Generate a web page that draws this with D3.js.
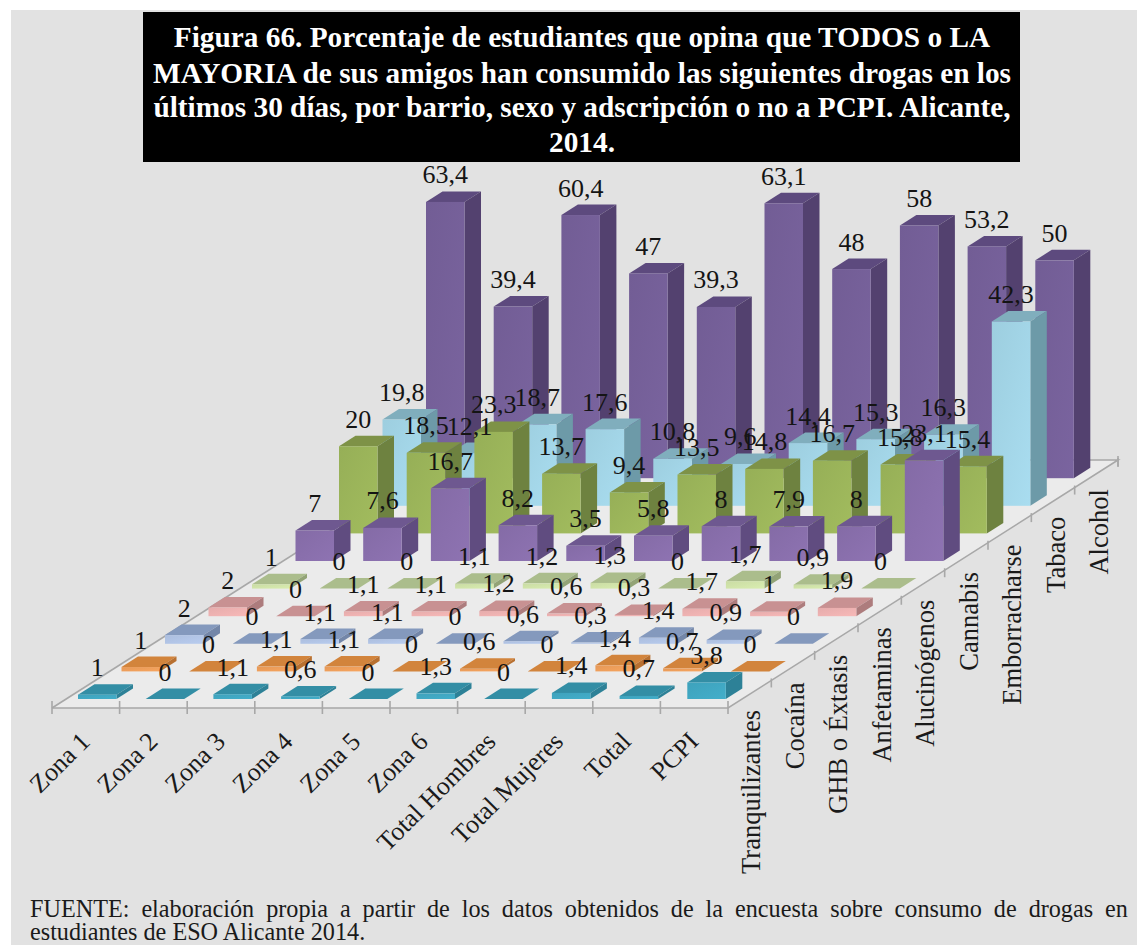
<!DOCTYPE html>
<html><head><meta charset="utf-8">
<style>html,body{margin:0;padding:0;background:#fff}svg{display:block}
text{font-family:"Liberation Serif",serif}</style>
<script src="https://cdn.jsdelivr.net/npm/d3@7/dist/d3.min.js"></script>
</head><body><svg id="c" width="1137" height="945"></svg>
<script>
const zones = ["Zona 1","Zona 2","Zona 3","Zona 4","Zona 5","Zona 6","Total Hombres","Total Mujeres","Total","PCPI"];
const drugs = ["Tranquilizantes","Cocaína","GHB o Éxtasis","Anfetaminas","Alucinógenos","Cannabis","Emborracharse","Tabaco","Alcohol"];
const tranquilizantes = [1,0,1.1,0.6,0,1.3,0,1.4,0.7,3.8];
const cocaina = [1,0,1.1,1.1,0,0.6,0,1.4,0.7,0];
const ghb = [2,0,1.1,1.1,0,0.6,0.3,1.4,0.9,0];
const anfetaminas = [2,0,1.1,1.1,1.2,0.6,0.3,1.7,1,1.9];
const alucinogenos = [1,0,0,1.1,1.2,1.3,0,1.7,0.9,0];
const cannabis = [7,7.6,16.7,8.2,3.5,5.8,8,7.9,8,23.1];
const emborracharse = [20,18.5,23.3,13.7,9.4,13.5,14.8,16.7,15.8,15.4];
const tabaco = [19.8,12.1,18.7,17.6,10.8,9.6,14.4,15.3,16.3,42.3];
const alcohol = [63.4,39.4,60.4,47,39.3,63.1,48,58,53.2,50];
const seriesValues = [tranquilizantes,cocaina,ghb,anfetaminas,alucinogenos,cannabis,emborracharse,tabaco,alcohol];
const frontColors = ["#41a9c4","#f0a05c","#b3c6e8","#f0b4b3","#d3e6ab","#8a70ad","#9db75b","#a4d7e9","#77619b"];
const topColors   = ["#338ea5","#d2843c","#8499bd","#c89192","#abbd8c","#6e5890","#7e9247","#80aebd","#5d4a7e"];
const sideColors  = ["#2d8197","#b87030","#7386a8","#ad7c7d","#92a376","#604c80","#6e8240","#6d9aa8","#53416f"];
const titleLines = ["Figura 66. Porcentaje de estudiantes que opina que TODOS o LA","MAYORIA de sus amigos han consumido las siguientes drogas en los","últimos 30 días, por barrio, sexo y adscripción o no a PCPI. Alicante,","2014."];
const sourceLines = ["FUENTE: elaboración propia a partir de los datos obtenidos de la encuesta sobre consumo de drogas en","estudiantes de ESO Alicante 2014."];

const svg = d3.select("#c");
const barW = 38.5, depthX = 16.5, depthY = 10.5;
const zoneX = d3.scalePoint().domain(zones).range([78, 78 + 9*67.7]);
const rowDX = d3.scalePoint().domain(drugs).range([0, 8*43.5]);
const rowY  = d3.scalePoint().domain(drugs).range([699, 699 - 8*27.6]);
const hScale = d3.scaleLinear().domain([0,70]).range([0,305]);
const axisX = d3.scaleLinear().domain([0,10]).range([52,728]);
const axisD = d3.scaleLinear().domain([0,9]).range([0,1]);
const pt = (a,b,t)=>[a[0]+(b[0]-a[0])*t, a[1]+(b[1]-a[1])*t];

svg.append("rect").attr("x",11).attr("y",10).attr("width",1126).attr("height",935).attr("fill","#e2e2e2");

// floor
const fl=[52,708], fr=[728,708], br=[1118,460], bl=[442,460];
svg.append("polygon").attr("points",[fl,fr,br,bl].map(p=>p.join(",")).join(" ")).attr("fill","#ebebeb");
const axisG = svg.append("g").attr("stroke","#a8a8a8").attr("stroke-width",1.6).attr("fill","none");
axisG.append("path").attr("d",d3.line()([fl,fr,br,bl]));
axisG.append("path").attr("d",d3.line()([fl,bl]));
d3.range(0,11).forEach(i=>axisG.append("line").attr("x1",axisX(i)).attr("x2",axisX(i)).attr("y1",701).attr("y2",714));
d3.range(1,10).forEach(i=>{const p=pt(fr,br,axisD(i));
  axisG.append("line").attr("x1",p[0]).attr("x2",p[0]).attr("y1",p[1]-2).attr("y2",p[1]+7);});
axisG.append("line").attr("x1",1118).attr("x2",1118).attr("y1",456).attr("y2",466);

// gradients
const defs = svg.append("defs");
frontColors.forEach((c,i)=>{
  const g=defs.append("linearGradient").attr("id","f"+i).attr("x1",0).attr("y1",0).attr("x2",1).attr("y2",1);
  g.append("stop").attr("offset",0).attr("stop-color",d3.color(c).darker(0.12));
  g.append("stop").attr("offset",1).attr("stop-color",d3.color(c).brighter(0.08));
});

// bars, back row first
const poly=(g,pts,fill)=>g.append("polygon").attr("points",pts.map(p=>p.join(",")).join(" ")).attr("fill",fill);
const labels=[];
for(let r=drugs.length-1;r>=0;r--){
  const g=svg.append("g");
  zones.forEach((z,k)=>{
    const v=seriesValues[r][k];
    const x=zoneX(z)+rowDX(drugs[r]), y0=rowY(drugs[r]), h=hScale(v), y1=y0-h;
    poly(g,[[x,y1],[x+depthX,y1-depthY],[x+barW+depthX,y1-depthY],[x+barW,y1]],topColors[r]);
    if(v>0){
      poly(g,[[x+barW,y0],[x+barW+depthX,y0-depthY],[x+barW+depthX,y1-depthY],[x+barW,y1]],sideColors[r]);
      g.append("rect").attr("x",x).attr("y",y1).attr("width",barW).attr("height",h).attr("fill",`url(#f${r})`);
    }
    labels.push({x:x+barW/2,y:y1-18.5,t:String(v).replace(".",",")});
  });
}
svg.append("g").attr("font-size",26).attr("fill","#141414").attr("text-anchor","middle")
  .selectAll("text").data(labels).join("text").attr("x",d=>d.x).attr("y",d=>d.y).text(d=>d.t);

// axis labels
svg.append("g").attr("font-size",26).attr("fill","#1a1a1a").attr("text-anchor","end")
  .selectAll("text").data(zones).join("text")
  .attr("transform",(d,i)=>`translate(${axisX(i)+39.5},743) rotate(-45)`).text(d=>d);
svg.append("g").attr("font-size",26.5).attr("fill","#1a1a1a").attr("text-anchor","end")
  .selectAll("text").data(drugs).join("text")
  .attr("transform",(d,i)=>`translate(${760+rowDX(d)},${710-(699-rowY(d))}) rotate(-90)`).text(d=>d);

// title
svg.append("rect").attr("x",143).attr("y",12).attr("width",877).attr("height",150).attr("fill","#000");
svg.append("g").attr("font-size",29.3).attr("font-weight","bold").attr("fill","#fff").attr("text-anchor","middle")
  .selectAll("text").data(titleLines).join("text").attr("x",582).attr("y",(d,i)=>[46.5,82.5,117,151.5][i]).text(d=>d);

// source
svg.append("g").attr("font-size",24.2).attr("fill","#1a1a1a")
  .selectAll("text").data(sourceLines).join("text").attr("x",30).attr("y",(d,i)=>[917,939.5][i]).attr("word-spacing",(d,i)=>i==0?"5.9px":"0").text(d=>d);
</script></body></html>
